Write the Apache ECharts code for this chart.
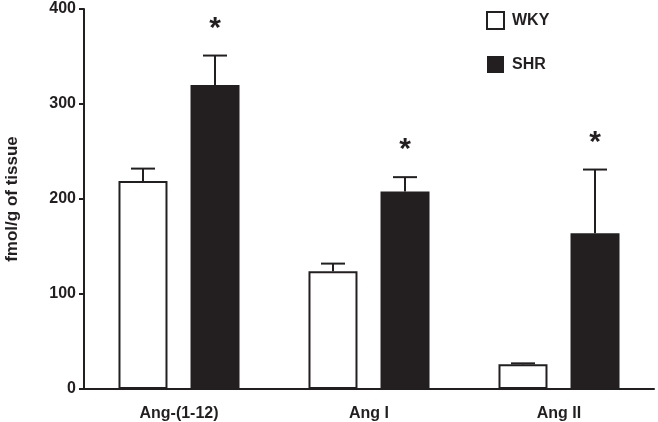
<!DOCTYPE html>
<html>
<head>
<meta charset="utf-8">
<script src="https://cdn.jsdelivr.net/npm/echarts@6/dist/echarts.min.js"></script>
<style>
  html, body { margin: 0; padding: 0; background: #fff; }
  #chart { width: 658px; height: 422px; }
</style>
</head>
<body>
<div id="chart"></div>
<script>
const categories = ['Ang-(1-12)', 'Ang I', 'Ang II'];
const wkyMean = [219, 124, 26];
const wkyErr = [13, 8, 1];
const shrMean = [320, 208, 164];
const shrErr = [31, 15, 67];
const signif = ['*', '*', '*'];
const yTicks = [0, 100, 200, 300, 400];

const ink = '#231f20';
const font = 'Liberation Sans, Arial, sans-serif';
const barW = 49;
const half = 36; // half distance between bar centres in a group

function errorSeries(means, errs, side) {
  return {
    type: 'custom',
    z: 5,
    data: means.map((m, i) => [i, m, m + errs[i]]),
    renderItem: function (params, api) {
      const base = api.coord([api.value(0), api.value(1)]);
      const top = api.coord([api.value(0), api.value(2)]);
      const x = base[0] + side * half;
      const style = { stroke: ink, lineWidth: 2 };
      return {
        type: 'group',
        children: [
          { type: 'line', shape: { x1: x, y1: base[1], x2: x, y2: top[1] }, style: style },
          { type: 'line', shape: { x1: x - 12, y1: top[1], x2: x + 12, y2: top[1] }, style: style }
        ]
      };
    }
  };
}

const chart = echarts.init(document.getElementById('chart'));
chart.setOption({
  animation: false,
  textStyle: { fontFamily: font },
  grid: { left: 84, right: 4, top: 9, bottom: 33, outerBoundsMode: 'none' },
  legend: {
    orient: 'vertical',
    left: 486,
    top: 11,
    padding: 0,
    itemWidth: 17,
    itemHeight: 17,
    itemGap: 26,
    icon: 'rect',
    textStyle: { fontFamily: font, fontWeight: 'bold', fontSize: 16, color: ink, padding: [0, 0, 0, 3] },
    data: [
      { name: 'WKY', itemStyle: { color: '#fff', borderColor: ink, borderWidth: 2 } },
      { name: 'SHR', itemStyle: { color: ink } }
    ]
  },
  xAxis: {
    type: 'category',
    data: categories,
    axisLine: { lineStyle: { color: ink, width: 2 } },
    axisTick: { alignWithLabel: true, length: 4, lineStyle: { color: ink, width: 1.5 } },
    axisLabel: { fontFamily: font, fontWeight: 'bold', fontSize: 16, color: ink, margin: 17 }
  },
  yAxis: {
    type: 'value',
    min: yTicks[0],
    max: yTicks[yTicks.length - 1],
    interval: 100,
    name: 'fmol/g of tissue',
    nameLocation: 'middle',
    nameGap: 63,
    nameTextStyle: { fontFamily: font, fontWeight: 'bold', fontSize: 17, color: ink },
    splitLine: { show: false },
    axisLine: { show: true, lineStyle: { color: ink, width: 2 } },
    axisTick: { show: true, length: 5, lineStyle: { color: ink, width: 2 } },
    axisLabel: { fontFamily: font, fontWeight: 'bold', fontSize: 16, color: ink, margin: 8 }
  },
  series: [
    {
      name: 'WKY',
      type: 'bar',
      data: wkyMean,
      barWidth: barW,
      barGap: '47%',
      itemStyle: { color: '#fff', borderColor: ink, borderWidth: 2 }
    },
    {
      name: 'SHR',
      type: 'bar',
      data: shrMean,
      barWidth: barW,
      itemStyle: { color: ink }
    },
    errorSeries(wkyMean, wkyErr, -1),
    errorSeries(shrMean, shrErr, 1),
    {
      type: 'custom',
      z: 6,
      data: shrMean.map((m, i) => [i, m + shrErr[i]]),
      renderItem: function (params, api) {
        const p = api.coord([api.value(0), api.value(1)]);
        return {
          type: 'text',
          style: {
            x: p[0] + half,
            y: p[1] - 12,
            text: signif[params.dataIndex],
            fontFamily: font,
            fontWeight: 'bold',
            fontSize: 30,
            fill: ink,
            align: 'center',
            verticalAlign: 'bottom'
          }
        };
      }
    }
  ]
});
</script>
</body>
</html>
